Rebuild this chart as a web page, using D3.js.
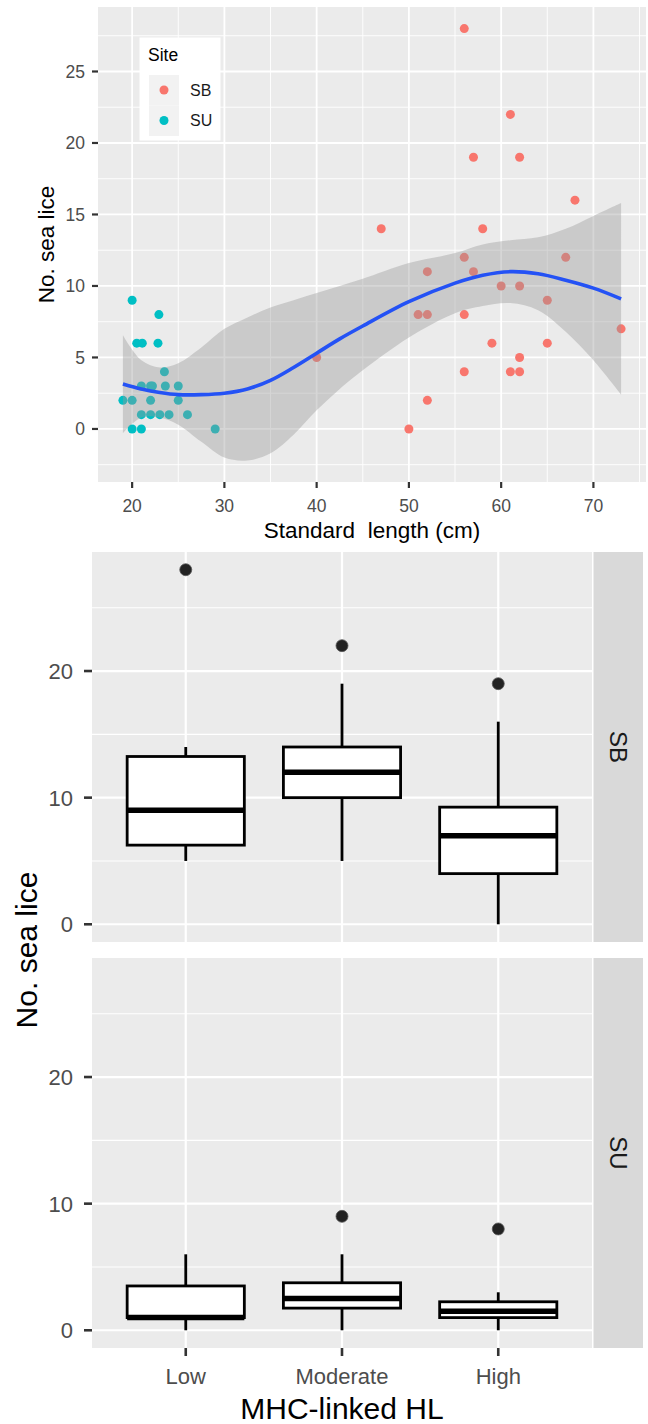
<!DOCTYPE html>
<html>
<head>
<meta charset="utf-8">
<script src="https://cdn.jsdelivr.net/npm/d3@7"></script>
<style>
  html, body { margin: 0; padding: 0; background: #fff; }
  svg { display: block; font-family: "Liberation Sans", Arial, sans-serif; }
</style>
</head>
<body>
<svg id="chart" width="648" height="1424"></svg>
<script>
// ---- top panel: sea lice vs standard length ----
const sbLength = [56, 61, 57, 62, 68, 47, 58, 56, 67, 52, 57, 60, 62, 65, 51, 52, 56, 73, 59, 65, 62, 40, 56, 61, 62, 52, 50];
const sbLice   = [28, 22, 19, 19, 16, 14, 14, 12, 12, 11, 11, 10, 10, 9, 8, 8, 8, 7, 6, 6, 5, 5, 4, 4, 4, 2, 0];
const suLength = [20, 22.9, 20.5, 21.1, 22.8, 23.5, 21, 22, 22.2, 23.6, 25, 19, 20, 22, 25, 21, 22, 23, 24, 26, 20, 21, 29];
const suLice   = [9, 8, 6, 6, 6, 4, 3, 3, 3, 3, 3, 2, 2, 2, 2, 1, 1, 1, 1, 1, 0, 0, 0];

// loess fit + ribbon
const fitX  = [19, 21, 23, 25, 27.5, 30, 32.5, 35, 37.5, 40, 42.5, 45, 50, 55, 58, 61, 64, 67, 70, 73];
const fitY  = [3.15, 2.8, 2.55, 2.4, 2.4, 2.5, 2.8, 3.4, 4.3, 5.3, 6.3, 7.2, 8.9, 10.2, 10.75, 11.0, 10.85, 10.4, 9.85, 9.1];
const fitLo = [-0.3, 0.8, 0.8, 0.3, -0.9, -2.0, -2.2, -1.7, -0.4, 1.3, 2.8, 4.1, 6.4, 8.1, 8.6, 8.8, 8.3, 6.8, 4.8, 2.4];
const fitHi = [6.55, 4.8, 4.3, 4.6, 5.7, 7.0, 7.8, 8.5, 9.0, 9.5, 10.0, 10.5, 11.6, 12.3, 12.9, 13.2, 13.4, 14.0, 14.9, 15.8];

const xTicks = [20, 30, 40, 50, 60, 70];
const xMinor = [25, 35, 45, 55, 65, 75];
const yTicks = [0, 5, 10, 15, 20, 25];
const yMinor = [-2.5, 2.5, 7.5, 12.5, 17.5, 22.5, 27.5];

const siteNames = ["SB", "SU"];
const siteColors = ["#F8766D", "#00BFC4"];

// ---- bottom panels: boxplots by MHC-linked HL ----
const hlLevels = ["Low", "Moderate", "High"];
// ymin, q1, median, q3, ymax
const sbStats = [[5, 6.25, 9, 13.25, 14], [5, 10, 12, 14, 19], [0, 4, 7, 9.25, 16]];
const sbOutliers = [[28], [22], [19]];
const suStats = [[0, 1, 1, 3.5, 6], [0, 1.75, 2.5, 3.75, 6], [0, 1, 1.5, 2.25, 3]];
const suOutliers = [[], [9], [8]];
const boxTicks = [0, 10, 20];
const boxMinor = [5, 15, 25];

const svg = d3.select("#chart");
const tickCol = "#333333", labCol = "#4D4D4D";

// expand a range by 5% like ggplot
function expand(lo, hi) {
  const d = (hi - lo) * 0.05;
  return [lo - d, hi + d];
}

// ================= scatter =================
const sc = { l: 98, r: 646, t: 7, b: 482 };
const allX = sbLength.concat(suLength);
const allY = sbLice.concat(suLice, fitLo, fitHi);
const x = d3.scaleLinear().domain(expand(d3.min(allX), d3.max(allX))).range([sc.l, sc.r]);
const y = d3.scaleLinear().domain(expand(d3.min(allY), d3.max(allY))).range([sc.b, sc.t]);

const g1 = svg.append("g");
g1.append("rect")
  .attr("x", sc.l).attr("y", sc.t)
  .attr("width", sc.r - sc.l).attr("height", sc.b - sc.t)
  .attr("fill", "#EBEBEB");

g1.selectAll(".xmin").data(xMinor.filter(v => x(v) <= sc.r)).join("line")
  .attr("x1", d => x(d)).attr("x2", d => x(d)).attr("y1", sc.t).attr("y2", sc.b)
  .attr("stroke", "#fff").attr("stroke-width", 0.9);
g1.selectAll(".ymin").data(yMinor.filter(v => y(v) >= sc.t && y(v) <= sc.b)).join("line")
  .attr("y1", d => y(d)).attr("y2", d => y(d)).attr("x1", sc.l).attr("x2", sc.r)
  .attr("stroke", "#fff").attr("stroke-width", 0.9);
g1.selectAll(".xmaj").data(xTicks).join("line")
  .attr("x1", d => x(d)).attr("x2", d => x(d)).attr("y1", sc.t).attr("y2", sc.b)
  .attr("stroke", "#fff").attr("stroke-width", 1.8);
g1.selectAll(".ymaj").data(yTicks).join("line")
  .attr("y1", d => y(d)).attr("y2", d => y(d)).attr("x1", sc.l).attr("x2", sc.r)
  .attr("stroke", "#fff").attr("stroke-width", 1.8);

// points
const pts = sbLength.map((v, i) => ({ x: v, y: sbLice[i], site: 0 }))
  .concat(suLength.map((v, i) => ({ x: v, y: suLice[i], site: 1 })));
g1.selectAll(".pt").data(pts).join("circle")
  .attr("cx", d => x(d.x)).attr("cy", d => y(d.y)).attr("r", 4.5)
  .attr("fill", d => siteColors[d.site]);

// smooth
const fit = fitX.map((v, i) => ({ x: v, y: fitY[i], lo: fitLo[i], hi: fitHi[i] }));
const smooth = d3.curveCatmullRom.alpha(0.5);
g1.append("path").datum(fit)
  .attr("d", d3.area().x(d => x(d.x)).y0(d => y(d.lo)).y1(d => y(d.hi)).curve(smooth))
  .attr("fill", "#999999").attr("fill-opacity", 0.4);
g1.append("path").datum(fit)
  .attr("d", d3.line().x(d => x(d.x)).y(d => y(d.y)).curve(smooth))
  .attr("fill", "none").attr("stroke", "#2452F5").attr("stroke-width", 3.6);

// axes
g1.selectAll(".xt").data(xTicks).join("line")
  .attr("x1", d => x(d)).attr("x2", d => x(d)).attr("y1", sc.b).attr("y2", sc.b + 6)
  .attr("stroke", tickCol).attr("stroke-width", 2.2);
g1.selectAll(".xl").data(xTicks).join("text")
  .attr("x", d => x(d)).attr("y", 512).attr("text-anchor", "middle")
  .attr("font-size", 17.5).attr("fill", labCol).text(d => d);
g1.selectAll(".yt").data(yTicks).join("line")
  .attr("x1", sc.l - 6).attr("x2", sc.l).attr("y1", d => y(d)).attr("y2", d => y(d))
  .attr("stroke", tickCol).attr("stroke-width", 2.2);
g1.selectAll(".yl").data(yTicks).join("text")
  .attr("x", sc.l - 13).attr("y", d => y(d)).attr("dy", "0.36em").attr("text-anchor", "end")
  .attr("font-size", 17.5).attr("fill", labCol).text(d => d);
g1.append("text")
  .attr("x", (sc.l + sc.r) / 2).attr("y", 538).attr("text-anchor", "middle")
  .attr("font-size", 22.5).attr("fill", "#000").style("white-space", "pre")
  .text("Standard  length (cm)");
g1.append("text")
  .attr("transform", `translate(54,${(sc.t + sc.b) / 2}) rotate(-90)`)
  .attr("text-anchor", "middle").attr("font-size", 22.5).attr("fill", "#000")
  .text("No. sea lice");

// legend
const lg = g1.append("g");
lg.append("rect").attr("x", 139.5).attr("y", 37.5).attr("width", 81).attr("height", 103).attr("fill", "#fff");
lg.append("text").attr("x", 148).attr("y", 61).attr("font-size", 17.5).attr("fill", "#000").text("Site");
siteNames.forEach((s, i) => {
  const ky = 75 + i * 30.5;
  lg.append("rect").attr("x", 149).attr("y", ky).attr("width", 30).attr("height", 30.5).attr("fill", "#F2F2F2");
  lg.append("circle").attr("cx", 164).attr("cy", ky + 15).attr("r", 4.5).attr("fill", siteColors[i]);
  lg.append("text").attr("x", 190).attr("y", ky + 15).attr("dy", "0.36em")
    .attr("font-size", 16).attr("fill", "#1a1a1a").text(s);
});

// ================= boxplots =================
const bx = { l: 92, r: 592 };
const stripL = 593.5, stripR = 643;
const facets = [
  { name: "SB", stats: sbStats, out: sbOutliers, t: 552, b: 942 },
  { name: "SU", stats: suStats, out: suOutliers, t: 958, b: 1348 }
];
const xb = d3.scalePoint().domain(hlLevels).range([bx.l, bx.r]).padding(0.6);
const boxW = xb.step() * 0.75;

facets.forEach(f => {
  const yb = d3.scaleLinear().domain(expand(0, 28)).range([f.b, f.t]);
  const g = svg.append("g");
  g.append("rect").attr("x", bx.l).attr("y", f.t).attr("width", bx.r - bx.l).attr("height", f.b - f.t)
    .attr("fill", "#EBEBEB");
  g.selectAll(".ymin").data(boxMinor).join("line")
    .attr("x1", bx.l).attr("x2", bx.r).attr("y1", d => yb(d)).attr("y2", d => yb(d))
    .attr("stroke", "#fff").attr("stroke-width", 1.1);
  g.selectAll(".ymaj").data(boxTicks).join("line")
    .attr("x1", bx.l).attr("x2", bx.r).attr("y1", d => yb(d)).attr("y2", d => yb(d))
    .attr("stroke", "#fff").attr("stroke-width", 2.2);
  g.selectAll(".xmaj").data(hlLevels).join("line")
    .attr("x1", d => xb(d)).attr("x2", d => xb(d)).attr("y1", f.t).attr("y2", f.b)
    .attr("stroke", "#fff").attr("stroke-width", 2.2);

  const rows = hlLevels.map((h, i) => ({ h, s: f.stats[i], out: f.out[i] }));
  const bg = g.selectAll(".box").data(rows).join("g");
  bg.append("line")
    .attr("x1", d => xb(d.h)).attr("x2", d => xb(d.h))
    .attr("y1", d => yb(d.s[3])).attr("y2", d => yb(d.s[4]))
    .attr("stroke", "#000").attr("stroke-width", 2.8);
  bg.append("line")
    .attr("x1", d => xb(d.h)).attr("x2", d => xb(d.h))
    .attr("y1", d => yb(d.s[1])).attr("y2", d => yb(d.s[0]))
    .attr("stroke", "#000").attr("stroke-width", 2.8);
  bg.append("rect")
    .attr("x", d => xb(d.h) - boxW / 2).attr("width", boxW)
    .attr("y", d => yb(d.s[3])).attr("height", d => yb(d.s[1]) - yb(d.s[3]))
    .attr("fill", "#fff").attr("stroke", "#000").attr("stroke-width", 2.8);
  bg.append("line")
    .attr("x1", d => xb(d.h) - boxW / 2).attr("x2", d => xb(d.h) + boxW / 2)
    .attr("y1", d => yb(d.s[2])).attr("y2", d => yb(d.s[2]))
    .attr("stroke", "#000").attr("stroke-width", 5.5);
  bg.selectAll(".out").data(d => d.out.map(v => ({ h: d.h, v }))).join("circle")
    .attr("cx", d => xb(d.h)).attr("cy", d => yb(d.v)).attr("r", 6)
    .attr("fill", "#222").attr("stroke", "#555").attr("stroke-width", 0.8);

  // y axis
  g.selectAll(".yt").data(boxTicks).join("line")
    .attr("x1", bx.l - 8).attr("x2", bx.l).attr("y1", d => yb(d)).attr("y2", d => yb(d))
    .attr("stroke", tickCol).attr("stroke-width", 2.6);
  g.selectAll(".yl").data(boxTicks).join("text")
    .attr("x", bx.l - 19).attr("y", d => yb(d)).attr("dy", "0.36em").attr("text-anchor", "end")
    .attr("font-size", 22).attr("fill", labCol).text(d => d);

  // strip
  g.append("rect").attr("x", stripL).attr("y", f.t).attr("width", stripR - stripL).attr("height", f.b - f.t)
    .attr("fill", "#D9D9D9");
  g.append("text")
    .attr("transform", `translate(${(stripL + stripR) / 2},${(f.t + f.b) / 2}) rotate(90)`)
    .attr("text-anchor", "middle").attr("dy", "0.36em")
    .attr("font-size", 24).attr("fill", "#1A1A1A").text(f.name);
});

// bottom x axis
const lastB = facets[1].b;
svg.selectAll(".bxt").data(hlLevels).join("line")
  .attr("x1", d => xb(d)).attr("x2", d => xb(d)).attr("y1", lastB).attr("y2", lastB + 8)
  .attr("stroke", tickCol).attr("stroke-width", 2.6);
svg.selectAll(".bxl").data(hlLevels).join("text")
  .attr("x", d => xb(d)).attr("y", 1384).attr("text-anchor", "middle")
  .attr("font-size", 22).attr("fill", labCol).text(d => d);
svg.append("text")
  .attr("x", (bx.l + bx.r) / 2).attr("y", 1419).attr("text-anchor", "middle")
  .attr("font-size", 30).attr("fill", "#000").text("MHC-linked HL");
svg.append("text")
  .attr("transform", `translate(37,${(facets[0].t + facets[1].b) / 2}) rotate(-90)`)
  .attr("text-anchor", "middle").attr("font-size", 30).attr("fill", "#000")
  .text("No. sea lice");
</script>
</body>
</html>
